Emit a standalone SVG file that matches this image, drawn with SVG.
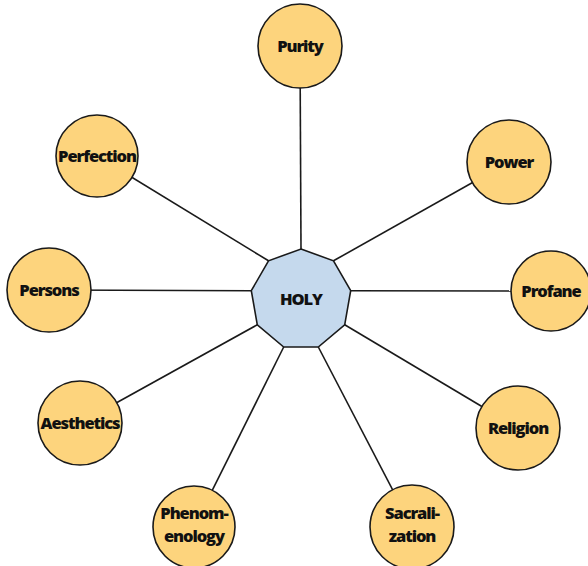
<svg xmlns="http://www.w3.org/2000/svg" width="588" height="566" viewBox="0 0 588 566">
<style>
.c{fill:#FDD47D;stroke:#1a1a1a;stroke-width:1.6}
.t{font-family:"Open Sans","Liberation Sans",sans-serif;font-weight:800;font-size:16.5px;letter-spacing:-1.1px;fill:#111;text-anchor:middle}
.e{stroke:#1a1a1a;stroke-width:1.6;fill:none}
</style>
<rect width="588" height="566" fill="#fff"/>
<g id="connectors">
<line class="e" x1="301" y1="249" x2="300" y2="46"/>
<line class="e" x1="333.5" y1="260.8" x2="509" y2="162"/>
<line class="e" x1="350.7" y1="290.7" x2="552" y2="291"/>
<line class="e" x1="344.7" y1="324.8" x2="518" y2="428"/>
<line class="e" x1="318.3" y1="347" x2="412" y2="527"/>
<line class="e" x1="283.7" y1="347" x2="194" y2="527"/>
<line class="e" x1="257.3" y1="324.8" x2="80" y2="423"/>
<line class="e" x1="251.3" y1="290.7" x2="49" y2="290"/>
<line class="e" x1="268.5" y1="260.8" x2="97" y2="156"/>
</g>
<g id="holy">
<polygon points="301,249 333.5,260.8 350.7,290.7 344.7,324.8 318.3,347 283.7,347 257.3,324.8 251.3,290.7 268.5,260.8" fill="#C5D9ED" stroke="#1a1a1a" stroke-width="1.6"/>
<text class="t" x="301" y="305">HOLY</text>
</g>
<g id="purity"><circle class="c" cx="300" cy="46" r="42"/><text class="t" x="300" y="52">Purity</text></g>
<g id="power"><circle class="c" cx="509" cy="162" r="42"/><text class="t" x="509" y="168">Power</text></g>
<g id="profane"><circle class="c" cx="551" cy="291" r="40"/><text class="t" x="551" y="297">Profane</text></g>
<g id="religion"><circle class="c" cx="518" cy="428" r="42"/><text class="t" x="518" y="434">Religion</text></g>
<g id="sacralization"><circle class="c" cx="412" cy="527" r="42"/><text class="t" x="412" y="519">Sacrali-</text><text class="t" x="412" y="542">zation</text></g>
<g id="phenomenology"><circle class="c" cx="194" cy="527" r="41"/><text class="t" x="194" y="519">Phenom-</text><text class="t" x="194" y="542">enology</text></g>
<g id="aesthetics"><circle class="c" cx="80" cy="423" r="42"/><text class="t" x="80" y="429">Aesthetics</text></g>
<g id="persons"><circle class="c" cx="49" cy="290" r="42"/><text class="t" x="49" y="296">Persons</text></g>
<g id="perfection"><circle class="c" cx="97" cy="156" r="41"/><text class="t" x="97" y="162">Perfection</text></g>
</svg>
